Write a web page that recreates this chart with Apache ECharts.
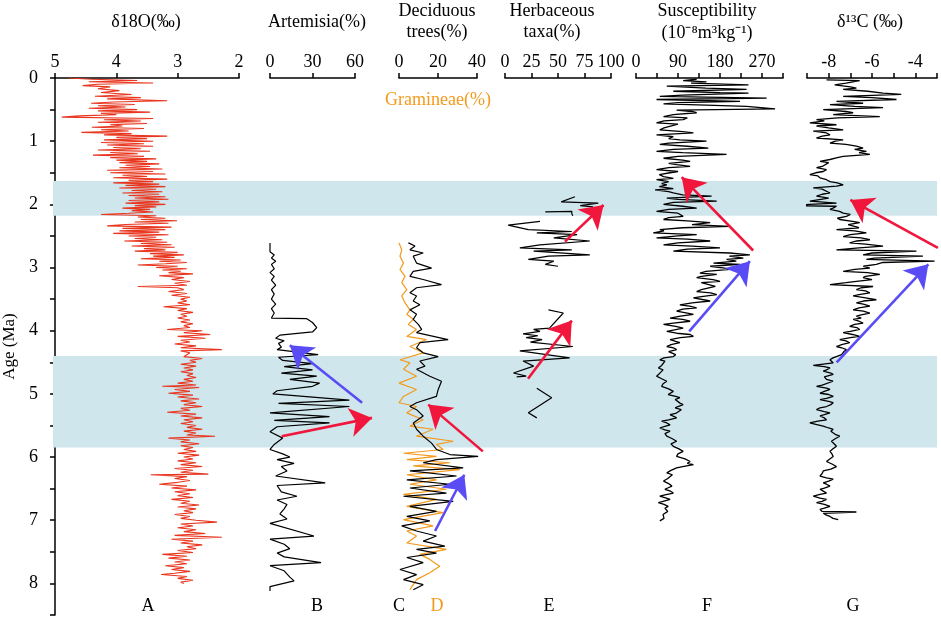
<!DOCTYPE html>
<html>
<head>
<meta charset="utf-8">
<script src="https://cdn.jsdelivr.net/npm/echarts@6/dist/echarts.min.js"></script>
<style>
html,body{margin:0;padding:0;background:#fff;}
#chart{width:941px;height:619px;}
</style>
</head>
<body>
<div id="chart"></div>
<script>
// ---------- DATA (age in Ma, value) ----------
const bands = [[1.63, 2.18], [4.40, 5.85]];

const d18O = [[0.00,4.78],[0.02,4.40],[0.04,3.66],[0.06,4.45],[0.08,3.40],[0.10,4.30],[0.12,4.55],[0.14,4.10],[0.17,4.30],[0.20,3.95],[0.23,4.25],[0.26,3.75],[0.29,4.35],[0.31,3.60],[0.33,4.15],[0.36,3.17],[0.38,4.05],[0.40,4.41],[0.42,3.70],[0.44,4.30],[0.46,3.85],[0.48,4.45],[0.50,3.66],[0.52,4.30],[0.54,3.45],[0.56,4.25],[0.58,4.00],[0.60,4.60],[0.62,4.89],[0.64,3.40],[0.66,4.20],[0.68,3.60],[0.70,4.30],[0.72,3.50],[0.74,4.10],[0.76,3.90],[0.78,4.40],[0.80,3.55],[0.82,4.25],[0.84,3.80],[0.86,4.57],[0.88,3.75],[0.90,4.20],[0.92,3.17],[0.94,4.00],[0.96,3.50],[0.98,4.20],[1.00,3.40],[1.02,4.25],[1.04,3.55],[1.06,4.15],[1.08,3.40],[1.10,4.05],[1.12,3.60],[1.14,4.30],[1.16,3.45],[1.18,4.10],[1.20,3.65],[1.22,4.38],[1.24,3.55],[1.26,4.10],[1.28,3.35],[1.30,4.00],[1.32,3.50],[1.34,3.95],[1.36,3.30],[1.38,3.85],[1.40,3.45],[1.42,3.95],[1.44,3.25],[1.46,4.15],[1.48,3.40],[1.50,4.10],[1.52,3.20],[1.54,3.90],[1.56,3.50],[1.58,4.05],[1.60,3.17],[1.62,3.80],[1.64,3.40],[1.66,4.05],[1.68,3.30],[1.70,3.85],[1.72,3.20],[1.74,3.95],[1.76,3.35],[1.78,3.75],[1.80,3.25],[1.82,3.90],[1.84,3.30],[1.86,3.80],[1.88,3.20],[1.90,3.70],[1.92,3.15],[1.94,3.80],[1.96,3.30],[1.98,3.85],[2.00,3.20],[2.02,3.70],[2.04,3.35],[2.06,3.90],[2.08,3.45],[2.10,3.75],[2.12,3.40],[2.14,3.80],[2.16,4.25],[2.18,3.35],[2.20,3.65],[2.22,3.20],[2.24,3.60],[2.26,3.01],[2.28,3.70],[2.30,3.15],[2.32,3.85],[2.34,4.15],[2.36,3.10],[2.38,3.90],[2.40,3.20],[2.42,3.95],[2.44,3.30],[2.46,4.05],[2.48,3.15],[2.50,3.80],[2.52,3.35],[2.54,3.70],[2.56,3.25],[2.58,3.87],[2.60,3.17],[2.62,3.60],[2.64,3.10],[2.66,3.75],[2.68,3.05],[2.70,3.55],[2.72,3.20],[2.74,3.70],[2.76,3.00],[2.78,3.45],[2.80,2.90],[2.82,3.40],[2.84,3.05],[2.86,3.60],[2.88,2.95],[2.90,3.30],[2.92,2.85],[2.94,3.20],[2.96,3.65],[2.98,3.00],[3.00,3.35],[3.02,2.85],[3.04,3.25],[3.06,2.95],[3.08,3.15],[3.10,2.75],[3.13,3.30],[3.16,2.90],[3.19,3.10],[3.22,2.80],[3.25,3.05],[3.28,2.85],[3.30,3.65],[3.32,3.00],[3.35,2.90],[3.38,3.15],[3.41,2.85],[3.44,3.10],[3.47,2.80],[3.50,2.95],[3.53,2.85],[3.56,3.00],[3.59,2.80],[3.62,3.23],[3.65,2.85],[3.68,3.00],[3.71,2.75],[3.74,2.95],[3.77,2.85],[3.80,3.00],[3.83,2.80],[3.86,2.95],[3.89,2.75],[3.92,2.90],[3.95,2.80],[3.98,3.17],[4.00,2.60],[4.03,2.90],[4.06,2.47],[4.09,3.00],[4.12,2.55],[4.15,2.95],[4.18,2.80],[4.21,3.05],[4.24,2.70],[4.27,2.95],[4.30,2.28],[4.32,2.95],[4.35,2.80],[4.38,2.85],[4.41,2.90],[4.44,2.60],[4.47,2.80],[4.50,2.70],[4.53,2.95],[4.56,2.70],[4.59,2.90],[4.62,2.75],[4.65,2.95],[4.68,2.75],[4.71,2.85],[4.74,2.70],[4.77,2.90],[4.80,2.75],[4.83,3.00],[4.86,2.70],[4.88,3.25],[4.90,2.65],[4.93,3.05],[4.96,2.80],[4.99,3.15],[5.02,2.75],[5.05,3.00],[5.08,2.65],[5.11,2.95],[5.14,2.70],[5.17,2.90],[5.20,2.60],[5.23,2.95],[5.26,2.80],[5.29,3.17],[5.32,2.70],[5.35,2.95],[5.38,2.60],[5.41,2.90],[5.44,2.75],[5.47,2.95],[5.50,2.70],[5.53,2.85],[5.56,2.60],[5.59,2.90],[5.62,2.70],[5.65,2.85],[5.67,2.39],[5.70,3.15],[5.73,2.80],[5.76,2.95],[5.79,2.65],[5.82,2.95],[5.85,2.75],[5.88,2.90],[5.91,2.70],[5.94,3.00],[5.97,2.65],[6.00,2.90],[6.03,2.75],[6.06,3.00],[6.09,2.70],[6.12,2.95],[6.15,2.60],[6.18,3.05],[6.21,2.75],[6.24,2.95],[6.27,2.50],[6.28,3.44],[6.31,2.85],[6.34,3.05],[6.37,2.80],[6.40,3.00],[6.43,3.30],[6.46,2.85],[6.49,3.10],[6.52,2.70],[6.55,3.05],[6.58,2.80],[6.61,3.00],[6.64,2.75],[6.67,3.10],[6.70,2.80],[6.73,2.95],[6.76,2.65],[6.79,3.00],[6.82,2.70],[6.85,2.90],[6.88,2.75],[6.91,3.05],[6.94,2.80],[6.97,2.95],[7.00,2.70],[7.03,2.36],[7.06,2.95],[7.09,2.75],[7.12,3.00],[7.15,2.70],[7.18,2.90],[7.21,2.55],[7.24,3.05],[7.27,2.28],[7.30,3.10],[7.33,2.75],[7.36,2.95],[7.39,2.60],[7.42,2.85],[7.45,2.70],[7.48,3.00],[7.51,2.75],[7.54,3.25],[7.57,2.85],[7.60,3.15],[7.63,2.80],[7.66,3.05],[7.69,2.85],[7.72,3.20],[7.75,2.90],[7.78,3.10],[7.81,2.80],[7.84,3.05],[7.86,3.27],[7.89,2.85],[7.92,3.00],[7.95,2.75],[7.98,2.95],[8.00,2.90]];

const artemisia = [[2.61,0],[2.75,0],[2.80,3],[2.85,1],[2.90,4],[2.95,1],[3.02,3],[3.08,0],[3.14,3],[3.20,1],[3.28,4],[3.35,1],[3.42,3],[3.50,1],[3.58,4],[3.65,1],[3.72,3],[3.80,1],[3.81,26],[3.87,30],[3.95,33],[4.02,30],[4.07,7],[4.12,4],[4.16,10],[4.20,6],[4.26,8],[4.30,5],[4.38,34],[4.42,6],[4.47,9],[4.52,30],[4.57,10],[4.62,30],[4.67,8],[4.72,33],[4.77,14],[4.83,35],[4.88,30],[4.95,5],[5.00,2],[5.10,56],[5.15,6],[5.20,56],[5.30,0],[5.36,42],[5.42,3],[5.46,42],[5.52,5],[5.60,0],[5.70,9],[5.80,3],[5.88,0],[5.95,9],[6.00,14],[6.04,5],[6.10,17],[6.15,8],[6.22,12],[6.30,4],[6.41,39],[6.45,5],[6.55,8],[6.62,19],[6.68,5],[6.75,12],[6.82,10],[6.90,7],[6.98,12],[7.05,0],[7.25,31],[7.30,0],[7.38,10],[7.45,14],[7.52,5],[7.58,10],[7.67,36],[7.72,0],[7.80,10],[7.90,14],[7.96,17],[8.05,0],[8.12,0]];

const deciduous = [[2.61,4.8],[2.66,8.2],[2.72,5.6],[2.77,12.4],[2.82,7.3],[2.93,9.0],[3.01,16.7],[3.06,7.3],[3.14,5.6],[3.19,12.4],[3.27,21.8],[3.32,9.0],[3.40,5.6],[3.45,9.0],[3.53,7.3],[3.59,10.7],[3.67,5.6],[3.74,9.0],[3.82,7.3],[3.90,9.9],[3.98,11.6],[4.03,9.0],[4.14,25.2],[4.19,10.7],[4.27,9.0],[4.35,12.4],[4.41,20.1],[4.48,10.7],[4.56,13.3],[4.61,9.0],[4.72,15.8],[4.80,21.8],[4.93,20.1],[5.04,19.2],[5.14,9.0],[5.20,5.6],[5.25,9.0],[5.35,12.4],[5.46,7.3],[5.56,9.0],[5.67,12.4],[5.78,16.7],[5.88,19.2],[5.96,26.1],[5.99,40.6],[6.04,19.2],[6.09,12.4],[6.17,32.9],[6.22,5.6],[6.30,29.5],[6.36,4.0],[6.43,26.1],[6.49,5.6],[6.57,24.3],[6.62,2.3],[6.70,27.8],[6.78,5.6],[6.86,19.2],[6.94,4.0],[7.01,15.8],[7.09,1.4],[7.17,9.0],[7.25,19.2],[7.33,12.4],[7.41,23.5],[7.46,9.0],[7.52,19.2],[7.59,4.0],[7.67,12.4],[7.78,0.5],[7.86,9.0],[7.94,2.3],[8.02,12.4],[8.10,7.3]];

const gramineae = [[2.61,0],[2.72,1.4],[2.82,0.5],[2.93,2.3],[3.03,0.5],[3.14,3.1],[3.24,1.4],[3.35,4.0],[3.45,1.4],[3.56,3.1],[3.67,5.6],[3.74,4.0],[3.82,7.3],[3.90,4.8],[3.98,9.0],[4.09,4.0],[4.14,14.1],[4.25,5.6],[4.35,12.4],[4.46,0.5],[4.51,5.6],[4.61,2.3],[4.72,9.0],[4.83,0],[4.93,9.0],[5.04,2.3],[5.14,0],[5.20,9.0],[5.30,4.0],[5.41,12.4],[5.51,5.6],[5.56,17.5],[5.67,9.0],[5.75,27.8],[5.80,19.2],[5.88,22.6],[5.94,2.3],[5.99,19.2],[6.04,4.0],[6.09,26.1],[6.14,7.3],[6.20,31.2],[6.28,4.0],[6.36,19.2],[6.43,5.6],[6.51,24.3],[6.59,2.3],[6.67,19.2],[6.78,4.0],[6.88,22.6],[6.99,2.3],[7.09,17.5],[7.17,4.0],[7.25,9.0],[7.36,4.0],[7.46,24.3],[7.54,10.7],[7.62,15.8],[7.73,20.9],[7.83,15.8],[7.94,9.0],[8.02,7.3],[8.10,5.6]];

const herbaceousParts = [
  [[1.88,66],[1.96,53],[1.98,88],[2.02,71],[2.04,83]],
  [[2.12,38],[2.11,63],[2.15,63],[2.18,64]],
  [[2.27,33],[2.33,3],[2.40,22],[2.43,63],[2.45,30],[2.48,68],[2.53,46],[2.58,80],[2.64,33],[2.69,14],[2.72,63],[2.74,27],[2.80,80],[2.82,41],[2.87,22],[2.90,46],[2.95,38],[2.98,50]],
  [[3.67,41],[3.72,55],[3.96,42],[3.98,27],[4.01,33],[4.05,17],[4.08,31],[4.11,20],[4.14,35],[4.18,24],[4.25,64],[4.32,14],[4.43,61],[4.48,17],[4.56,27],[4.67,8],[4.72,20],[4.73,11]],
  [[4.91,30],[5.06,44],[5.30,22],[5.38,30]]
];

const susceptibility = [[0.02,130],[0.04,101],[0.06,151],[0.08,118],[0.11,241],[0.13,66],[0.16,150],[0.18,237],[0.21,80],[0.23,180],[0.24,241],[0.27,100],[0.29,51],[0.32,280],[0.34,44],[0.37,223],[0.39,90],[0.41,59],[0.43,150],[0.45,237],[0.49,298],[0.51,87],[0.53,120],[0.55,130],[0.58,80],[0.61,59],[0.63,110],[0.66,101],[0.68,60],[0.71,44],[0.73,90],[0.76,94],[0.79,60],[0.82,51],[0.85,100],[0.87,123],[0.90,44],[0.93,80],[0.96,70],[0.98,94],[1.00,151],[1.03,70],[1.05,51],[1.08,110],[1.11,155],[1.13,80],[1.16,44],[1.18,100],[1.21,194],[1.24,90],[1.27,59],[1.30,100],[1.32,116],[1.35,70],[1.37,87],[1.40,116],[1.42,70],[1.45,44],[1.48,90],[1.50,73],[1.53,50],[1.56,59],[1.59,80],[1.61,44],[1.64,70],[1.67,55],[1.69,66],[1.72,50],[1.75,80],[1.77,41],[1.80,70],[1.82,80],[1.85,100],[1.87,162],[1.90,66],[1.92,90],[1.95,173],[1.97,80],[2.00,59],[2.03,100],[2.06,130],[2.08,70],[2.11,44],[2.14,90],[2.19,101],[2.21,70],[2.24,59],[2.26,110],[2.29,159],[2.32,120],[2.35,201],[2.37,100],[2.40,51],[2.42,60],[2.45,37],[2.48,130],[2.50,90],[2.53,44],[2.55,110],[2.58,159],[2.61,90],[2.64,59],[2.66,120],[2.69,180],[2.71,110],[2.74,80],[2.77,201],[2.80,244],[2.82,200],[2.85,230],[2.87,194],[2.90,215],[2.93,166],[2.95,223],[2.98,159],[3.01,190],[3.03,201],[3.06,150],[3.09,137],[3.11,173],[3.14,140],[3.16,130],[3.19,165],[3.22,180],[3.24,140],[3.27,137],[3.30,170],[3.32,166],[3.35,140],[3.38,130],[3.40,160],[3.43,173],[3.46,140],[3.48,123],[3.51,145],[3.53,159],[3.56,120],[3.59,94],[3.61,115],[3.64,130],[3.66,100],[3.69,87],[3.72,110],[3.74,123],[3.77,95],[3.80,73],[3.82,100],[3.85,116],[3.88,80],[3.90,59],[3.93,85],[3.96,101],[3.99,80],[4.01,66],[4.04,87],[4.06,116],[4.09,123],[4.11,95],[4.14,73],[4.17,85],[4.19,94],[4.22,75],[4.25,66],[4.27,80],[4.30,87],[4.33,70],[4.35,73],[4.38,85],[4.41,80],[4.43,60],[4.46,51],[4.48,62],[4.51,66],[4.55,55],[4.59,48],[4.62,58],[4.64,62],[4.68,50],[4.72,44],[4.76,55],[4.80,66],[4.84,58],[4.88,55],[4.92,70],[4.96,80],[5.01,69],[5.04,85],[5.06,94],[5.09,84],[5.12,80],[5.15,95],[5.17,101],[5.20,90],[5.22,84],[5.25,97],[5.28,101],[5.31,85],[5.33,73],[5.36,82],[5.38,87],[5.41,70],[5.43,55],[5.46,66],[5.49,73],[5.52,60],[5.54,51],[5.57,62],[5.59,73],[5.63,62],[5.67,66],[5.71,78],[5.75,87],[5.79,75],[5.83,80],[5.87,92],[5.91,101],[5.95,90],[5.99,87],[6.03,105],[6.07,116],[6.10,110],[6.12,123],[6.15,100],[6.17,87],[6.21,75],[6.25,66],[6.28,78],[6.30,80],[6.34,68],[6.38,59],[6.42,70],[6.46,77],[6.49,68],[6.51,62],[6.54,74],[6.57,80],[6.60,62],[6.62,51],[6.65,65],[6.67,73],[6.70,58],[6.72,48],[6.75,60],[6.78,69],[6.81,62],[6.83,59],[6.86,68],[6.88,66],[6.91,58],[6.94,55],[6.97,60],[7.01,51]];

const d13C = [[0.03,-8.10],[0.04,-6.57],[0.08,-7.20],[0.11,-7.72],[0.14,-7.00],[0.16,-6.72],[0.18,-7.33],[0.21,-6.20],[0.24,-5.49],[0.26,-4.65],[0.29,-7.33],[0.31,-6.00],[0.34,-4.87],[0.37,-7.64],[0.40,-6.41],[0.42,-7.94],[0.45,-6.80],[0.47,-5.49],[0.50,-8.25],[0.53,-7.20],[0.55,-6.87],[0.58,-7.79],[0.61,-5.64],[0.63,-7.60],[0.66,-8.56],[0.68,-8.20],[0.71,-8.87],[0.74,-7.64],[0.76,-8.56],[0.79,-8.00],[0.82,-7.33],[0.84,-8.71],[0.87,-8.10],[0.90,-7.94],[0.92,-8.30],[0.95,-8.56],[0.98,-7.33],[1.00,-7.70],[1.03,-7.94],[1.05,-7.20],[1.08,-6.72],[1.11,-6.41],[1.13,-6.80],[1.16,-6.26],[1.18,-6.60],[1.21,-6.10],[1.24,-7.33],[1.26,-7.60],[1.29,-7.94],[1.32,-8.40],[1.34,-8.00],[1.37,-7.94],[1.40,-8.30],[1.42,-8.56],[1.45,-8.10],[1.48,-8.25],[1.50,-8.60],[1.53,-8.87],[1.55,-8.50],[1.58,-8.40],[1.61,-8.10],[1.64,-7.94],[1.66,-7.60],[1.69,-7.33],[1.71,-7.64],[1.74,-8.71],[1.76,-8.30],[1.79,-8.25],[1.82,-7.94],[1.84,-8.30],[1.87,-8.56],[1.90,-8.00],[1.93,-7.94],[1.95,-8.87],[1.98,-7.64],[2.00,-8.87],[2.02,-10.09],[2.03,-7.64],[2.06,-7.80],[2.08,-7.94],[2.11,-7.50],[2.14,-7.33],[2.16,-7.00],[2.19,-7.18],[2.22,-7.60],[2.24,-7.49],[2.27,-6.90],[2.29,-6.57],[2.32,-7.10],[2.35,-7.03],[2.37,-6.60],[2.40,-7.64],[2.42,-6.80],[2.45,-6.26],[2.48,-7.00],[2.51,-7.33],[2.53,-6.50],[2.56,-6.10],[2.58,-6.70],[2.61,-7.03],[2.63,-6.30],[2.66,-5.49],[2.69,-6.60],[2.72,-7.64],[2.74,-3.95],[2.77,-6.00],[2.80,-6.41],[2.82,-3.65],[2.85,-5.90],[2.87,-6.26],[2.90,-3.11],[2.92,-5.50],[2.95,-5.80],[2.98,-6.40],[3.01,-6.10],[3.03,-6.80],[3.06,-7.33],[3.08,-6.20],[3.11,-5.64],[3.14,-6.30],[3.16,-6.41],[3.19,-6.00],[3.22,-6.72],[3.24,-7.20],[3.27,-7.94],[3.30,-5.95],[3.32,-6.50],[3.35,-6.72],[3.37,-6.30],[3.40,-6.10],[3.43,-6.60],[3.45,-6.87],[3.48,-6.30],[3.51,-5.80],[3.53,-6.40],[3.56,-6.72],[3.58,-6.40],[3.61,-6.10],[3.64,-6.60],[3.67,-6.87],[3.69,-6.40],[3.72,-6.10],[3.75,-6.50],[3.77,-6.72],[3.80,-6.50],[3.82,-6.87],[3.85,-6.60],[3.88,-6.41],[3.90,-6.80],[3.93,-7.03],[3.95,-6.70],[3.98,-6.57],[4.01,-7.00],[4.03,-7.33],[4.06,-6.90],[4.09,-6.57],[4.11,-7.00],[4.14,-7.49],[4.16,-7.20],[4.19,-7.03],[4.22,-7.40],[4.25,-7.64],[4.27,-7.40],[4.30,-7.18],[4.33,-7.30],[4.35,-7.33],[4.38,-7.40],[4.40,-7.49],[4.43,-7.80],[4.46,-7.94],[4.51,-7.79],[4.55,-8.71],[4.57,-8.20],[4.59,-7.94],[4.62,-8.10],[4.64,-8.25],[4.67,-7.90],[4.69,-7.79],[4.73,-8.20],[4.77,-8.10],[4.80,-7.80],[4.83,-7.79],[4.86,-8.30],[4.88,-8.56],[4.91,-8.10],[4.93,-7.94],[4.96,-8.20],[4.99,-8.40],[5.01,-8.00],[5.04,-7.79],[5.07,-8.10],[5.09,-8.40],[5.12,-8.00],[5.14,-7.79],[5.17,-7.90],[5.20,-8.10],[5.22,-8.40],[5.25,-8.56],[5.28,-8.20],[5.30,-7.94],[5.33,-8.20],[5.35,-8.40],[5.38,-8.20],[5.41,-8.10],[5.43,-8.50],[5.46,-8.87],[5.49,-8.50],[5.51,-8.25],[5.54,-8.00],[5.56,-7.79],[5.59,-7.90],[5.62,-7.94],[5.64,-7.70],[5.67,-7.49],[5.71,-7.70],[5.75,-7.87],[5.79,-7.75],[5.83,-7.64],[5.87,-7.80],[5.91,-7.94],[5.95,-7.85],[5.99,-7.79],[6.03,-7.95],[6.07,-8.10],[6.11,-7.85],[6.15,-7.64],[6.19,-7.90],[6.22,-8.25],[6.26,-8.30],[6.30,-8.40],[6.33,-8.10],[6.35,-7.79],[6.38,-8.00],[6.41,-8.25],[6.43,-8.10],[6.46,-7.94],[6.49,-8.20],[6.51,-8.40],[6.54,-8.25],[6.57,-8.10],[6.59,-8.40],[6.62,-8.71],[6.65,-8.40],[6.67,-8.10],[6.70,-8.30],[6.72,-8.56],[6.75,-8.20],[6.78,-7.94],[6.81,-8.20],[6.83,-8.40],[6.86,-8.30],[6.87,-6.72],[6.89,-8.25],[6.92,-8.10],[6.94,-7.94],[6.97,-7.80],[6.99,-7.56]];

// arrows: [panel, fromValue, fromAge, toValue, toAge]
const redArrows = [
  ['B', 8.3, 5.67, 72, 5.38],
  ['C', 43, 5.91, 15, 5.17],
  ['E', 56.6, 2.59, 93, 2.01],
  ['E', 21.7, 4.76, 63, 3.84],
  ['F', 251, 2.73, 98, 1.57],
  ['G', -2.96, 2.69, -7.0, 1.93]
];
const blueArrows = [
  ['B', 65, 5.14, 14, 4.23],
  ['C', 18.5, 7.17, 33.5, 6.28],
  ['F', 114, 4.01, 244, 2.90],
  ['G', -7.63, 4.50, -3.4, 2.95]
];

// ---------- CHART ----------
const FONT = "'Liberation Serif','Times New Roman',serif";
const FS = 18;
const chart = echarts.init(document.getElementById('chart'), null, {renderer: 'canvas'});

const panelIndex = {A: 1, B: 2, C: 3, E: 4, F: 5, G: 6};
const panelGrids = [
  {left: 53, width: 186},   // A
  {left: 270, width: 85},   // B
  {left: 399, width: 78},   // C/D
  {left: 505, width: 106},  // E
  {left: 636, width: 147},  // F
  {left: 807, width: 130}   // G
];
const grids = [{left: 53, width: 884, top: 78, height: 537}]
  .concat(panelGrids.map(g => ({left: g.left, width: g.width, top: 78, height: 537})));

const axisLineStyle = {color: '#000', width: 1.5};
const labelStyle = {color: '#000', fontFamily: FONT, fontSize: FS};

function topAxis(gi, min, max, interval, extra) {
  return Object.assign({
    type: 'value', gridIndex: gi, position: 'top', min, max, interval,
    axisLine: {show: true, onZero: false, lineStyle: axisLineStyle},
    axisTick: {show: true, inside: false, length: 5, lineStyle: axisLineStyle},
    axisLabel: Object.assign({margin: 7}, labelStyle),
    splitLine: {show: false}
  }, extra || {});
}

const xAxes = [
  {type: 'value', gridIndex: 0, min: 0, max: 1, show: false},
  topAxis(1, 2, 5, 1, {inverse: true}),
  topAxis(2, 0, 60, 30),
  topAxis(3, 0, 40, 20),
  topAxis(4, 0, 100, 25),
  topAxis(5, 0, 315, 45, {axisLabel: Object.assign({margin: 7, formatter: v => (v % 90 === 0 ? String(v) : '')}, labelStyle)}),
  topAxis(6, -9, -3, 1, {axisLabel: Object.assign({margin: 7, formatter: v => (Math.abs(v) % 2 === 0 ? String(v) : '')}, labelStyle)})
];

const yAxes = [0,1,2,3,4,5,6].map(i => {
  if (i === 1) {
    return {
      type: 'value', gridIndex: 1, min: 0, max: 8.5, interval: 0.5, inverse: true,
      axisLine: {show: true, onZero: false, lineStyle: axisLineStyle},
      axisTick: {show: true, inside: false, length: 5, lineStyle: axisLineStyle},
      axisLabel: Object.assign({margin: 17, formatter: v => (Number.isInteger(v) ? String(v) : '')}, labelStyle),
      splitLine: {show: false},
      name: 'Age (Ma)', nameLocation: 'middle', nameGap: 37, nameRotate: 90,
      nameTextStyle: {color: '#000', fontFamily: FONT, fontSize: 17}
    };
  }
  return {type: 'value', gridIndex: i, min: 0, max: 8.5, inverse: true, show: false};
});

function lineSeries(gi, data, color, extra) {
  return Object.assign({
    type: 'line', xAxisIndex: gi, yAxisIndex: gi,
    data: data.map(p => [p[1], p[0]]),
    symbol: 'none', showSymbol: false, silent: true, animation: false,
    lineStyle: {color, width: 1.2}, z: 3
  }, extra || {});
}

const series = [
  {
    type: 'line', xAxisIndex: 0, yAxisIndex: 0, data: [[0, 0]], symbol: 'none',
    lineStyle: {opacity: 0}, silent: true, z: 0, animation: false,
    markArea: {
      silent: true,
      itemStyle: {color: '#d0e6ed', opacity: 1},
      data: bands.map(b => [{xAxis: 0, yAxis: b[0]}, {xAxis: 1, yAxis: b[1]}])
    }
  },
  lineSeries(1, d18O, '#e8361f', {lineStyle: {color: '#e8361f', width: 1.1}}),
  lineSeries(2, artemisia, '#000'),
  lineSeries(3, gramineae, '#f39a1c'),
  lineSeries(3, deciduous, '#000'),
  ...herbaceousParts.map(part => lineSeries(4, part, '#000')),
  lineSeries(5, susceptibility, '#000', {lineStyle: {color: '#000', width: 1.3}}),
  lineSeries(6, d13C, '#000', {clip: false, lineStyle: {color: '#000', width: 1.3}})
];

function arrowSeries(list, color) {
  const byPanel = {};
  list.forEach(a => { (byPanel[a[0]] = byPanel[a[0]] || []).push(a); });
  return Object.keys(byPanel).map(p => ({
    type: 'lines', coordinateSystem: 'cartesian2d',
    xAxisIndex: panelIndex[p], yAxisIndex: panelIndex[p],
    clip: false, silent: true, animation: false, z: 10,
    symbol: ['none', 'arrow'], symbolSize: 22,
    lineStyle: {color, width: 2.6, opacity: 1},
    data: byPanel[p].map(a => ({coords: [[a[1], a[2]], [a[3], a[4]]]}))
  }));
}
series.push(...arrowSeries(redArrows, '#f0163c'), ...arrowSeries(blueArrows, '#5a4cf5'));

function txt(x, y, text, color) {
  return {
    type: 'text', x, y, silent: true, z: 20,
    style: {text, fill: color || '#000', font: FS + 'px ' + FONT,
            textAlign: 'center', textVerticalAlign: 'middle', align: 'center', verticalAlign: 'middle'}
  };
}
const graphic = [
  txt(146, 22, 'δ18O(‰)'),
  txt(317, 22, 'Artemisia(%)'),
  txt(437, 11, 'Deciduous'),
  txt(437, 32, 'trees(%)'),
  txt(552, 11, 'Herbaceous'),
  txt(552, 32, 'taxa(%)'),
  txt(707, 11, 'Susceptibility'),
  txt(707, 33, '(10⁻⁸m³kg⁻¹)'),
  txt(870, 22, 'δ¹³C (‰)'),
  txt(438, 100, 'Gramineae(%)', '#f39a1c'),
  txt(148, 606, 'A'),
  txt(317, 606, 'B'),
  txt(399, 606, 'C'),
  txt(437, 606, 'D', '#f39a1c'),
  txt(549, 606, 'E'),
  txt(707, 606, 'F'),
  txt(853, 606, 'G')
];

chart.setOption({
  animation: false,
  backgroundColor: '#fff',
  grid: grids,
  xAxis: xAxes,
  yAxis: yAxes,
  series,
  graphic
});
</script>
</body>
</html>
